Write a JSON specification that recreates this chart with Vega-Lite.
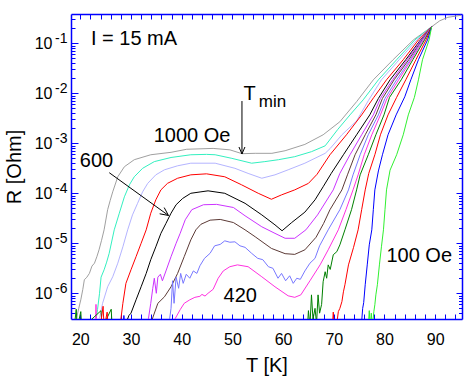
{
"$schema":"https://vega.github.io/schema/vega-lite/v6.json",
"width":391,"height":305,"autosize":"none",
"padding":{"left":71,"top":14,"right":9,"bottom":61},
"background":"white",
"config":{"view":{"stroke":null},"font":"Liberation Sans","axis":{"domainColor":"#0000FF","tickColor":"#0000FF","labelColor":"#000000","labelFont":"Liberation Sans","titleFont":"Liberation Sans","titleFontWeight":"normal","titleColor":"#000000","grid":false,"domainWidth":1.5,"tickWidth":1}},
"resolve":{"axis":{"x":"independent","y":"independent"}},
"datasets":{
"curves":[
{"H":"1000","T":19.1,"R":2.5e-7},{"H":"1000","T":19.3,"R":3.3e-7},{"H":"1000","T":19.7,"R":5.0e-7},{"H":"1000","T":20.1,"R":7.4e-7},{"H":"1000","T":20.5,"R":1.2e-6},{"H":"1000","T":20.8,"R":1.86e-6},{"H":"1000","T":21.3,"R":2.1e-6},{"H":"1000","T":21.8,"R":2.5e-6},{"H":"1000","T":22.3,"R":3.5e-6},{"H":"1000","T":22.8,"R":4.0e-6},{"H":"1000","T":23.3,"R":5.5e-6},{"H":"1000","T":23.7,"R":7.4e-6},{"H":"1000","T":24.2,"R":1.15e-5},{"H":"1000","T":24.7,"R":1.86e-5},{"H":"1000","T":25.4,"R":4.7e-5},{"H":"1000","T":25.9,"R":7.2e-5},{"H":"1000","T":26.4,"R":1.07e-4},{"H":"1000","T":27.4,"R":2.14e-4},{"H":"1000","T":28.7,"R":3.4e-4},{"H":"1000","T":30.65,"R":4.7e-4},{"H":"1000","T":33.9,"R":5.9e-4},{"H":"1000","T":37.9,"R":6.6e-4},{"H":"1000","T":41.0,"R":7.6e-4},{"H":"1000","T":46.2,"R":7.9e-4},{"H":"1000","T":49.5,"R":7.4e-4},{"H":"1000","T":51.9,"R":6.2e-4},{"H":"1000","T":54.5,"R":6.3e-4},{"H":"1000","T":57.8,"R":6.3e-4},{"H":"1000","T":60.4,"R":7.1e-4},{"H":"1000","T":64.3,"R":9.5e-4},{"H":"1000","T":67.9,"R":1.48e-3},{"H":"1000","T":71.2,"R":2.7e-3},{"H":"1000","T":74.5,"R":6.8e-3},{"H":"1000","T":77.8,"R":1.86e-2},{"H":"1000","T":81.7,"R":4.7e-2},{"H":"1000","T":85.7,"R":0.117},{"H":"1000","T":89.3,"R":0.214},{"H":"1000","T":90.9,"R":0.282},{"H":"1000","T":92.5,"R":0.331},{"H":"1000","T":95.1,"R":0.363},
{"H":"900","T":23.0,"R":2.5e-7},{"H":"900","T":23.4,"R":4.7e-7},{"H":"900","T":23.8,"R":1.0e-6},{"H":"900","T":24.1,"R":2.1e-6},{"H":"900","T":24.7,"R":2.95e-6},{"H":"900","T":25.2,"R":4.2e-6},{"H":"900","T":25.7,"R":6.3e-6},{"H":"900","T":26.7,"R":1.86e-5},{"H":"900","T":27.7,"R":4.0e-5},{"H":"900","T":28.7,"R":8.5e-5},{"H":"900","T":29.7,"R":1.48e-4},{"H":"900","T":30.65,"R":2.14e-4},{"H":"900","T":32.3,"R":3.16e-4},{"H":"900","T":34.6,"R":4.3e-4},{"H":"900","T":37.9,"R":5.2e-4},{"H":"900","T":41.8,"R":5.9e-4},{"H":"900","T":44.9,"R":6.0e-4},{"H":"900","T":46.6,"R":5.9e-4},{"H":"900","T":49.9,"R":5.0e-4},{"H":"900","T":53.8,"R":4.0e-4},{"H":"900","T":56.4,"R":4.3e-4},{"H":"900","T":59.1,"R":4.7e-4},{"H":"900","T":62.3,"R":5.4e-4},{"H":"900","T":65.6,"R":6.8e-4},{"H":"900","T":68.3,"R":8.9e-4},{"H":"900","T":70.8,"R":1.9e-3},{"H":"900","T":73.2,"R":3.7e-3},{"H":"900","T":75.8,"R":7.4e-3},{"H":"900","T":78.8,"R":1.86e-2},{"H":"900","T":82.4,"R":4.7e-2},{"H":"900","T":86.0,"R":0.117},{"H":"900","T":89.3,"R":0.214},
{"H":"800","T":23.6,"R":2.5e-7},{"H":"800","T":24.4,"R":6.3e-7},{"H":"800","T":25.4,"R":1.35e-6},{"H":"800","T":26.4,"R":2.14e-6},{"H":"800","T":27.4,"R":4.0e-6},{"H":"800","T":28.4,"R":8.5e-6},{"H":"800","T":29.35,"R":1.86e-5},{"H":"800","T":30.3,"R":3.7e-5},{"H":"800","T":31.3,"R":6.3e-5},{"H":"800","T":32.3,"R":1.07e-4},{"H":"800","T":33.3,"R":1.58e-4},{"H":"800","T":34.9,"R":2.34e-4},{"H":"800","T":36.6,"R":2.95e-4},{"H":"800","T":39.2,"R":3.55e-4},{"H":"800","T":41.8,"R":4.0e-4},{"H":"800","T":46.6,"R":4.0e-4},{"H":"800","T":50.5,"R":3.16e-4},{"H":"800","T":53.1,"R":2.5e-4},{"H":"800","T":55.8,"R":2.0e-4},{"H":"800","T":58.4,"R":2.34e-4},{"H":"800","T":61.0,"R":2.95e-4},{"H":"800","T":64.3,"R":4.0e-4},{"H":"800","T":68.3,"R":6.3e-4},{"H":"800","T":69.3,"R":7.9e-4},{"H":"800","T":71.6,"R":1.48e-3},{"H":"800","T":74.5,"R":2.8e-3},{"H":"800","T":76.8,"R":7.1e-3},{"H":"800","T":79.4,"R":1.86e-2},{"H":"800","T":82.9,"R":4.7e-2},{"H":"800","T":86.4,"R":0.117},{"H":"800","T":89.3,"R":0.214},
{"H":"700","T":27.9,"R":2.5e-7},{"H":"700","T":28.4,"R":6.3e-7},{"H":"700","T":29.0,"R":1.58e-6},{"H":"700","T":30.0,"R":2.95e-6},{"H":"700","T":31.0,"R":5.4e-6},{"H":"700","T":32.0,"R":1.0e-5},{"H":"700","T":33.0,"R":1.86e-5},{"H":"700","T":33.9,"R":4.0e-5},{"H":"700","T":34.9,"R":7.4e-5},{"H":"700","T":35.9,"R":1.17e-4},{"H":"700","T":37.2,"R":1.58e-4},{"H":"700","T":39.2,"R":2.0e-4},{"H":"700","T":41.8,"R":2.34e-4},{"H":"700","T":44.9,"R":2.45e-4},{"H":"700","T":48.5,"R":2.14e-4},{"H":"700","T":51.8,"R":1.48e-4},{"H":"700","T":55.1,"R":1.0e-4},{"H":"700","T":57.7,"R":7.6e-5},{"H":"700","T":59.7,"R":9.3e-5},{"H":"700","T":62.3,"R":1.17e-4},{"H":"700","T":65.0,"R":1.58e-4},{"H":"700","T":66.7,"R":2.4e-4},{"H":"700","T":69.25,"R":5.9e-4},{"H":"700","T":72.5,"R":1.48e-3},{"H":"700","T":75.5,"R":3.7e-3},{"H":"700","T":77.9,"R":8.3e-3},{"H":"700","T":80.4,"R":1.86e-2},{"H":"700","T":83.7,"R":4.7e-2},{"H":"700","T":86.7,"R":0.117},{"H":"700","T":89.3,"R":0.214},
{"H":"600","T":29.0,"R":2.5e-7},{"H":"600","T":29.6,"R":3.6e-7},{"H":"600","T":30.0,"R":4.0e-7},{"H":"600","T":31.0,"R":7.4e-7},{"H":"600","T":32.0,"R":1.35e-6},{"H":"600","T":33.0,"R":2.5e-6},{"H":"600","T":33.9,"R":4.7e-6},{"H":"600","T":34.9,"R":8.5e-6},{"H":"600","T":35.9,"R":1.58e-5},{"H":"600","T":36.9,"R":2.5e-5},{"H":"600","T":37.9,"R":4.0e-5},{"H":"600","T":38.9,"R":5.9e-5},{"H":"600","T":40.2,"R":7.9e-5},{"H":"600","T":41.8,"R":1.0e-4},{"H":"600","T":43.8,"R":1.07e-4},{"H":"600","T":45.2,"R":1.12e-4},{"H":"600","T":48.5,"R":1.0e-4},{"H":"600","T":52.5,"R":6.3e-5},{"H":"600","T":55.8,"R":3.7e-5},{"H":"600","T":58.4,"R":2.34e-5},{"H":"600","T":59.8,"R":1.78e-5},{"H":"600","T":61.7,"R":2.6e-5},{"H":"600","T":64.3,"R":4.2e-5},{"H":"600","T":66.3,"R":7.4e-5},{"H":"600","T":67.9,"R":1.35e-4},{"H":"600","T":69.5,"R":2.5e-4},{"H":"600","T":71.9,"R":5.9e-4},{"H":"600","T":74.5,"R":1.48e-3},{"H":"600","T":77.1,"R":3.7e-3},{"H":"600","T":78.8,"R":7.9e-3},{"H":"600","T":81.1,"R":1.86e-2},{"H":"600","T":84.2,"R":4.7e-2},{"H":"600","T":87.1,"R":0.117},{"H":"600","T":89.3,"R":0.214},
{"H":"550","T":33.3,"R":2.5e-7},{"H":"550","T":33.9,"R":6.3e-7},{"H":"550","T":34.3,"R":1.26e-6},{"H":"550","T":34.6,"R":2.0e-6},{"H":"550","T":35.0,"R":1.0e-6},{"H":"550","T":35.3,"R":2.1e-6},{"H":"550","T":35.8,"R":2.4e-6},{"H":"550","T":36.2,"R":1.78e-6},{"H":"550","T":36.9,"R":2.8e-6},{"H":"550","T":37.9,"R":5.4e-6},{"H":"550","T":38.9,"R":1.0e-5},{"H":"550","T":39.7,"R":1.58e-5},{"H":"550","T":40.7,"R":2.95e-5},{"H":"550","T":42.0,"R":4.7e-5},{"H":"550","T":44.3,"R":5.9e-5},{"H":"550","T":46.9,"R":6.0e-5},{"H":"550","T":50.2,"R":5.2e-5},{"H":"550","T":52.5,"R":3.55e-5},{"H":"550","T":55.8,"R":2.14e-5},{"H":"550","T":58.4,"R":1.58e-5},{"H":"550","T":60.4,"R":1.26e-5},{"H":"550","T":62.3,"R":1.26e-5},{"H":"550","T":64.5,"R":1.86e-5},{"H":"550","T":66.8,"R":3.7e-5},{"H":"550","T":69.9,"R":1.17e-4},{"H":"550","T":71.2,"R":2.5e-4},{"H":"550","T":73.2,"R":5.9e-4},{"H":"550","T":75.5,"R":1.48e-3},{"H":"550","T":77.8,"R":3.7e-3},{"H":"550","T":79.2,"R":7.9e-3},{"H":"550","T":81.6,"R":1.86e-2},{"H":"550","T":84.5,"R":4.7e-2},{"H":"550","T":87.2,"R":0.117},{"H":"550","T":89.3,"R":0.214},
{"H":"500","T":33.9,"R":2.5e-7},{"H":"500","T":35.3,"R":6.3e-7},{"H":"500","T":36.6,"R":8.5e-7},{"H":"500","T":37.9,"R":1.35e-6},{"H":"500","T":39.2,"R":2.5e-6},{"H":"500","T":40.5,"R":5.4e-6},{"H":"500","T":41.8,"R":1.17e-5},{"H":"500","T":42.8,"R":1.86e-5},{"H":"500","T":43.8,"R":2.4e-5},{"H":"500","T":45.6,"R":2.9e-5},{"H":"500","T":47.6,"R":3.0e-5},{"H":"500","T":50.2,"R":2.6e-5},{"H":"500","T":52.5,"R":1.86e-5},{"H":"500","T":54.5,"R":1.35e-5},{"H":"500","T":57.7,"R":7.9e-6},{"H":"500","T":60.4,"R":6.2e-6},{"H":"500","T":62.3,"R":6.0e-6},{"H":"500","T":64.3,"R":7.4e-6},{"H":"500","T":66.5,"R":1.32e-5},{"H":"500","T":68.0,"R":2.5e-5},{"H":"500","T":69.25,"R":4.7e-5},{"H":"500","T":71.6,"R":1.17e-4},{"H":"500","T":72.7,"R":2.34e-4},{"H":"500","T":74.2,"R":5.9e-4},{"H":"500","T":76.2,"R":1.48e-3},{"H":"500","T":78.3,"R":3.7e-3},{"H":"500","T":79.6,"R":7.9e-3},{"H":"500","T":81.9,"R":1.86e-2},{"H":"500","T":84.8,"R":4.7e-2},{"H":"500","T":87.4,"R":0.117},{"H":"500","T":89.3,"R":0.214},
{"H":"460","T":37.5,"R":2.5e-7},{"H":"460","T":37.9,"R":5.0e-7},{"H":"460","T":38.2,"R":1.78e-6},{"H":"460","T":38.5,"R":6.3e-7},{"H":"460","T":38.9,"R":2.1e-6},{"H":"460","T":39.4,"R":1.26e-6},{"H":"460","T":39.8,"R":2.5e-6},{"H":"460","T":40.3,"R":1.58e-6},{"H":"460","T":40.9,"R":2.4e-6},{"H":"460","T":41.6,"R":2.0e-6},{"H":"460","T":42.3,"R":2.8e-6},{"H":"460","T":43.0,"R":2.5e-6},{"H":"460","T":43.6,"R":3.55e-6},{"H":"460","T":44.5,"R":5.0e-6},{"H":"460","T":45.6,"R":6.3e-6},{"H":"460","T":46.5,"R":8.9e-6},{"H":"460","T":47.6,"R":9.5e-6},{"H":"460","T":48.5,"R":1.12e-5},{"H":"460","T":49.5,"R":1.05e-5},{"H":"460","T":50.5,"R":1.07e-5},{"H":"460","T":51.5,"R":8.9e-6},{"H":"460","T":52.5,"R":8.3e-6},{"H":"460","T":53.8,"R":6.3e-6},{"H":"460","T":55.0,"R":5.0e-6},{"H":"460","T":56.0,"R":4.7e-6},{"H":"460","T":57.1,"R":3.4e-6},{"H":"460","T":58.0,"R":3.16e-6},{"H":"460","T":59.0,"R":2.0e-6},{"H":"460","T":59.7,"R":2.5e-6},{"H":"460","T":60.5,"R":1.78e-6},{"H":"460","T":61.3,"R":2.24e-6},{"H":"460","T":62.0,"R":1.58e-6},{"H":"460","T":62.7,"R":2.0e-6},{"H":"460","T":63.4,"R":1.9e-6},{"H":"460","T":64.3,"R":2.8e-6},{"H":"460","T":65.3,"R":4.0e-6},{"H":"460","T":66.3,"R":5.0e-6},{"H":"460","T":67.2,"R":8.9e-6},{"H":"460","T":68.9,"R":1.86e-5},{"H":"460","T":71.2,"R":4.7e-5},{"H":"460","T":72.9,"R":1.17e-4},{"H":"460","T":73.8,"R":2.34e-4},{"H":"460","T":75.2,"R":5.9e-4},{"H":"460","T":76.8,"R":1.48e-3},{"H":"460","T":78.8,"R":3.7e-3},{"H":"460","T":80.1,"R":7.9e-3},{"H":"460","T":82.4,"R":1.86e-2},{"H":"460","T":85.1,"R":4.7e-2},{"H":"460","T":87.5,"R":0.117},{"H":"460","T":89.3,"R":0.214},
{"H":"420","T":23.0,"R":2e-7},{"H":"420","T":23.1,"R":6.0e-7},{"H":"420","T":23.2,"R":2e-7},{"H":"420","T":38.2,"R":2.5e-7},{"H":"420","T":39.7,"R":4.7e-7},{"H":"420","T":40.5,"R":6.3e-7},{"H":"420","T":41.6,"R":7.4e-7},{"H":"420","T":42.6,"R":8.3e-7},{"H":"420","T":43.6,"R":8.7e-7},{"H":"420","T":44.0,"R":9.5e-7},{"H":"420","T":44.6,"R":8.8e-7},{"H":"420","T":45.2,"R":1.0e-6},{"H":"420","T":46.2,"R":1.2e-6},{"H":"420","T":47.2,"R":2.0e-6},{"H":"420","T":48.2,"R":2.8e-6},{"H":"420","T":49.5,"R":3.4e-6},{"H":"420","T":51.0,"R":3.7e-6},{"H":"420","T":53.1,"R":3.4e-6},{"H":"420","T":55.8,"R":2.14e-6},{"H":"420","T":58.4,"R":1.35e-6},{"H":"420","T":61.0,"R":8.9e-7},{"H":"420","T":62.3,"R":8.3e-7},{"H":"420","T":63.5,"R":9.3e-7},{"H":"420","T":65.3,"R":1.78e-6},{"H":"420","T":67.3,"R":3.7e-6},{"H":"420","T":68.9,"R":7.4e-6},{"H":"420","T":70.9,"R":1.86e-5},{"H":"420","T":72.4,"R":4.7e-5},{"H":"420","T":73.8,"R":1.17e-4},{"H":"420","T":74.8,"R":2.34e-4},{"H":"420","T":76.0,"R":5.9e-4},{"H":"420","T":77.5,"R":1.48e-3},{"H":"420","T":79.2,"R":3.7e-3},{"H":"420","T":80.5,"R":7.9e-3},{"H":"420","T":82.8,"R":1.86e-2},{"H":"420","T":85.3,"R":4.7e-2},{"H":"420","T":87.7,"R":0.117},{"H":"420","T":89.3,"R":0.214},
{"H":"300","T":18.8,"R":2e-7},{"H":"300","T":19.2,"R":4.8e-7},{"H":"300","T":19.4,"R":2e-7},{"H":"300","T":20.1,"R":4.3e-7},{"H":"300","T":20.3,"R":2e-7},{"H":"300","T":24.1,"R":4.5e-7},{"H":"300","T":24.3,"R":2e-7},{"H":"300","T":26.1,"R":4.8e-7},{"H":"300","T":26.3,"R":2e-7},{"H":"300","T":64.8,"R":2e-7},{"H":"300","T":65.0,"R":4.5e-7},{"H":"300","T":65.3,"R":2.2e-7},{"H":"300","T":65.6,"R":9.3e-7},{"H":"300","T":65.9,"R":3.0e-7},{"H":"300","T":66.3,"R":5.0e-7},{"H":"300","T":66.6,"R":2.5e-7},{"H":"300","T":66.9,"R":9.3e-7},{"H":"300","T":67.2,"R":4.0e-7},{"H":"300","T":67.6,"R":6.0e-7},{"H":"300","T":67.9,"R":1.7e-6},{"H":"300","T":68.3,"R":2.7e-6},{"H":"300","T":68.6,"R":2.0e-6},{"H":"300","T":68.9,"R":3.7e-6},{"H":"300","T":69.3,"R":3.0e-6},{"H":"300","T":69.9,"R":5.9e-6},{"H":"300","T":70.6,"R":6.8e-6},{"H":"300","T":71.2,"R":9.3e-6},{"H":"300","T":72.2,"R":1.86e-5},{"H":"300","T":73.5,"R":4.7e-5},{"H":"300","T":74.5,"R":1.17e-4},{"H":"300","T":75.2,"R":2.34e-4},{"H":"300","T":76.8,"R":5.9e-4},{"H":"300","T":78.3,"R":1.48e-3},{"H":"300","T":79.9,"R":3.7e-3},{"H":"300","T":81.0,"R":8.3e-3},{"H":"300","T":83.3,"R":1.86e-2},{"H":"300","T":85.6,"R":4.7e-2},{"H":"300","T":87.9,"R":0.117},{"H":"300","T":89.3,"R":0.214},
{"H":"200","T":23.9,"R":2e-7},{"H":"200","T":24.5,"R":5.5e-7},{"H":"200","T":24.7,"R":2e-7},{"H":"200","T":25.3,"R":4.2e-7},{"H":"200","T":25.5,"R":2e-7},{"H":"200","T":69.7,"R":2e-7},{"H":"200","T":69.9,"R":4.2e-7},{"H":"200","T":70.1,"R":2e-7},{"H":"200","T":70.6,"R":2.5e-7},{"H":"200","T":70.9,"R":4.3e-7},{"H":"200","T":71.2,"R":5.0e-7},{"H":"200","T":71.6,"R":6.8e-7},{"H":"200","T":71.9,"R":1.07e-6},{"H":"200","T":72.2,"R":1.48e-6},{"H":"200","T":72.9,"R":3.7e-6},{"H":"200","T":73.9,"R":8.3e-6},{"H":"200","T":74.8,"R":1.86e-5},{"H":"200","T":75.5,"R":4.7e-5},{"H":"200","T":76.2,"R":1.17e-4},{"H":"200","T":76.9,"R":2.5e-4},{"H":"200","T":78.1,"R":5.9e-4},{"H":"200","T":79.2,"R":1.48e-3},{"H":"200","T":80.7,"R":3.7e-3},{"H":"200","T":82.4,"R":8.3e-3},{"H":"200","T":84.2,"R":1.86e-2},{"H":"200","T":86.2,"R":4.7e-2},{"H":"200","T":88.2,"R":0.117},{"H":"200","T":89.3,"R":0.214},
{"H":"150","T":28.4,"R":2e-7},{"H":"150","T":28.6,"R":3.6e-7},{"H":"150","T":28.8,"R":2e-7},{"H":"150","T":75.4,"R":2e-7},{"H":"150","T":75.7,"R":5.0e-7},{"H":"150","T":75.9,"R":6.5e-7},{"H":"150","T":76.2,"R":1.48e-6},{"H":"150","T":76.6,"R":3.7e-6},{"H":"150","T":77.0,"R":9.3e-6},{"H":"150","T":77.5,"R":1.86e-5},{"H":"150","T":77.8,"R":4.7e-5},{"H":"150","T":78.1,"R":1.17e-4},{"H":"150","T":78.8,"R":2.8e-4},{"H":"150","T":79.6,"R":5.9e-4},{"H":"150","T":80.7,"R":1.48e-3},{"H":"150","T":82.3,"R":3.7e-3},{"H":"150","T":84.0,"R":8.5e-3},{"H":"150","T":85.2,"R":1.86e-2},{"H":"150","T":86.7,"R":4.7e-2},{"H":"150","T":88.5,"R":0.117},{"H":"150","T":89.3,"R":0.214},
{"H":"100","T":76.8,"R":2e-7},{"H":"100","T":77.0,"R":4.5e-7},{"H":"100","T":77.2,"R":2e-7},{"H":"100","T":77.4,"R":4.0e-7},{"H":"100","T":77.6,"R":2e-7},{"H":"100","T":77.9,"R":4.3e-7},{"H":"100","T":78.1,"R":5.9e-7},{"H":"100","T":78.3,"R":9.3e-7},{"H":"100","T":78.6,"R":1.48e-6},{"H":"100","T":79.0,"R":3.7e-6},{"H":"100","T":79.4,"R":8.5e-6},{"H":"100","T":79.8,"R":1.86e-5},{"H":"100","T":80.1,"R":4.7e-5},{"H":"100","T":80.4,"R":1.17e-4},{"H":"100","T":81.1,"R":2.9e-4},{"H":"100","T":82.4,"R":5.9e-4},{"H":"100","T":83.7,"R":1.48e-3},{"H":"100","T":84.7,"R":3.7e-3},{"H":"100","T":85.9,"R":8.3e-3},{"H":"100","T":86.7,"R":1.86e-2},{"H":"100","T":87.5,"R":4.7e-2},{"H":"100","T":88.8,"R":0.117},{"H":"100","T":89.3,"R":0.214}
],
"labels20":[
{"label":"I = 15 mA","T":30.6,"R":0.0925},
{"label":"1000 Oe","T":42.05,"R":1.06e-3},
{"label":"600","T":23.2,"R":3.36e-4},
{"label":"420","T":51.55,"R":6.8e-7},
{"label":"100 Oe","T":86.85,"R":4.29e-6},
{"label":"T","T":53.4,"R":7.35e-3}
],
"labelsmin":[{"label":"min","T":57.9,"R":5.3e-3}],
"arrows":[
{"T":51.89,"R":7.0e-3,"T2":51.89,"R2":6.11e-4},
{"T":51.3,"R":8.43e-4,"T2":51.89,"R2":6.11e-4},
{"T":52.48,"R":8.43e-4,"T2":51.89,"R2":6.11e-4},
{"T":25.72,"R":2.58e-4,"T2":37.4,"R2":3.6e-5},
{"T":36.55,"R":5.18e-5,"T2":37.4,"R2":3.6e-5},
{"T":35.66,"R":3.89e-5,"T2":37.4,"R2":3.6e-5}
]
},
"layer":[
{"data":{"name":"curves"},
 "mark":{"type":"line","clip":true,"strokeWidth":1},
 "encoding":{
  "x":{"field":"T","type":"quantitative","scale":{"domain":[18.17,95.29],"nice":false,"zero":false},
       "axis":{"orient":"bottom","values":[20,30,40,50,60,70,80,90],"ticks":false,"domain":true,"labelFontSize":16,"labelPadding":12,"labelOverlap":false,"labelFlush":false,"title":"T [K]","titleFontSize":20,"titlePadding":8}},
  "y":{"field":"R","type":"quantitative","scale":{"type":"log","domain":[3.06e-7,0.3855],"nice":false},
       "axis":{"orient":"left","values":[1e-6,1e-5,1e-4,1e-3,1e-2,1e-1],"ticks":false,"domain":true,"labelExpr":"'10'","labelFontSize":16,"labelPadding":19,"labelOverlap":false,"title":"R [Ohm]","titleFontSize":20,"titlePadding":10}},
  "color":{"field":"H","type":"nominal","legend":null,
    "scale":{"domain":["1000","900","800","700","600","550","500","460","420","300","200","150","100"],
             "range":["#A0A0A0","#33F0C0","#B4B4FF","#FF0000","#000000","#CC33FF","#5C3A36","#7878FF","#FF30E0","#008000","#FF0000","#0000FF","#30F030"]}}
 }},
{"data":{"name":"arrows"},
 "mark":{"type":"rule","color":"#000000","strokeWidth":1},
 "encoding":{
  "x":{"field":"T","type":"quantitative","scale":{"domain":[18.17,95.29],"nice":false,"zero":false},
       "axis":{"orient":"bottom","values":[20,22,24,26,28,30,32,34,36,38,40,42,44,46,48,50,52,54,56,58,60,62,64,66,68,70,72,74,76,78,80,82,84,86,88,90,92,94],"labels":false,"tickSize":-5,"domain":false,"title":null}},
  "y":{"field":"R","type":"quantitative","scale":{"type":"log","domain":[3.06e-7,0.3855],"nice":false},
       "axis":{"orient":"left","values":[1e-6,1e-5,1e-4,1e-3,1e-2,1e-1],"ticks":false,"domain":false,"labelExpr":"datum.value > 0.05 ? '-1' : datum.value > 0.005 ? '-2' : datum.value > 0.0005 ? '-3' : datum.value > 0.00005 ? '-4' : datum.value > 0.000005 ? '-5' : '-6'","labelFontSize":14,"labelPadding":4,"labelOffset":-5,"labelOverlap":false,"title":null}},
  "x2":{"field":"T2"},"y2":{"field":"R2"}
 }},
{"data":{"name":"labels20"},
 "mark":{"type":"text","fontSize":20,"font":"Liberation Sans","align":"center","baseline":"alphabetic","color":"#000000"},
 "encoding":{
  "x":{"field":"T","type":"quantitative","scale":{"domain":[18.17,95.29],"nice":false,"zero":false},
       "axis":{"orient":"top","values":[20,22,24,26,28,30,32,34,36,38,40,42,44,46,48,50,52,54,56,58,60,62,64,66,68,70,72,74,76,78,80,82,84,86,88,90,92,94],"labels":false,"tickSize":-5,"domain":true,"title":null}},
  "y":{"field":"R","type":"quantitative","scale":{"type":"log","domain":[3.06e-7,0.3855],"nice":false},
       "axis":{"orient":"left","values":[1e-6,1e-5,1e-4,1e-3,1e-2,1e-1],"labels":false,"tickSize":-7,"domain":false,"title":null}},
  "text":{"field":"label"}
 }},
{"data":{"name":"labelsmin"},
 "mark":{"type":"text","fontSize":17,"font":"Liberation Sans","align":"center","baseline":"alphabetic","color":"#000000"},
 "encoding":{
  "x":{"field":"T","type":"quantitative","scale":{"domain":[18.17,95.29],"nice":false,"zero":false},"axis":null},
  "y":{"field":"R","type":"quantitative","scale":{"type":"log","domain":[3.06e-7,0.3855],"nice":false},
       "axis":{"orient":"left","values":[4e-7,5e-7,6e-7,7e-7,8e-7,9e-7,2e-6,3e-6,4e-6,5e-6,6e-6,7e-6,8e-6,9e-6,2e-5,3e-5,4e-5,5e-5,6e-5,7e-5,8e-5,9e-5,2e-4,3e-4,4e-4,5e-4,6e-4,7e-4,8e-4,9e-4,0.002,0.003,0.004,0.005,0.006,0.007,0.008,0.009,0.02,0.03,0.04,0.05,0.06,0.07,0.08,0.09,0.2,0.3],"labels":false,"tickSize":-4,"domain":false,"title":null}},
  "text":{"field":"label"}
 }},
{"data":{"name":"labelsmin"},
 "mark":{"type":"point","opacity":0},
 "encoding":{
  "x":{"field":"T","type":"quantitative","scale":{"domain":[18.17,95.29],"nice":false,"zero":false},"axis":null},
  "y":{"field":"R","type":"quantitative","scale":{"type":"log","domain":[3.06e-7,0.3855],"nice":false},
       "axis":{"orient":"right","values":[1e-6,1e-5,1e-4,1e-3,1e-2,1e-1],"labels":false,"tickSize":-6,"domain":true,"title":null}}
 }},
{"data":{"name":"labelsmin"},
 "mark":{"type":"point","opacity":0},
 "encoding":{
  "x":{"field":"T","type":"quantitative","scale":{"domain":[18.17,95.29],"nice":false,"zero":false},"axis":null},
  "y":{"field":"R","type":"quantitative","scale":{"type":"log","domain":[3.06e-7,0.3855],"nice":false},
       "axis":{"orient":"right","values":[4e-7,5e-7,6e-7,7e-7,8e-7,9e-7,2e-6,3e-6,4e-6,5e-6,6e-6,7e-6,8e-6,9e-6,2e-5,3e-5,4e-5,5e-5,6e-5,7e-5,8e-5,9e-5,2e-4,3e-4,4e-4,5e-4,6e-4,7e-4,8e-4,9e-4,0.002,0.003,0.004,0.005,0.006,0.007,0.008,0.009,0.02,0.03,0.04,0.05,0.06,0.07,0.08,0.09,0.2,0.3],"labels":false,"tickSize":-3.5,"domain":false,"title":null}}
 }}
]
}
